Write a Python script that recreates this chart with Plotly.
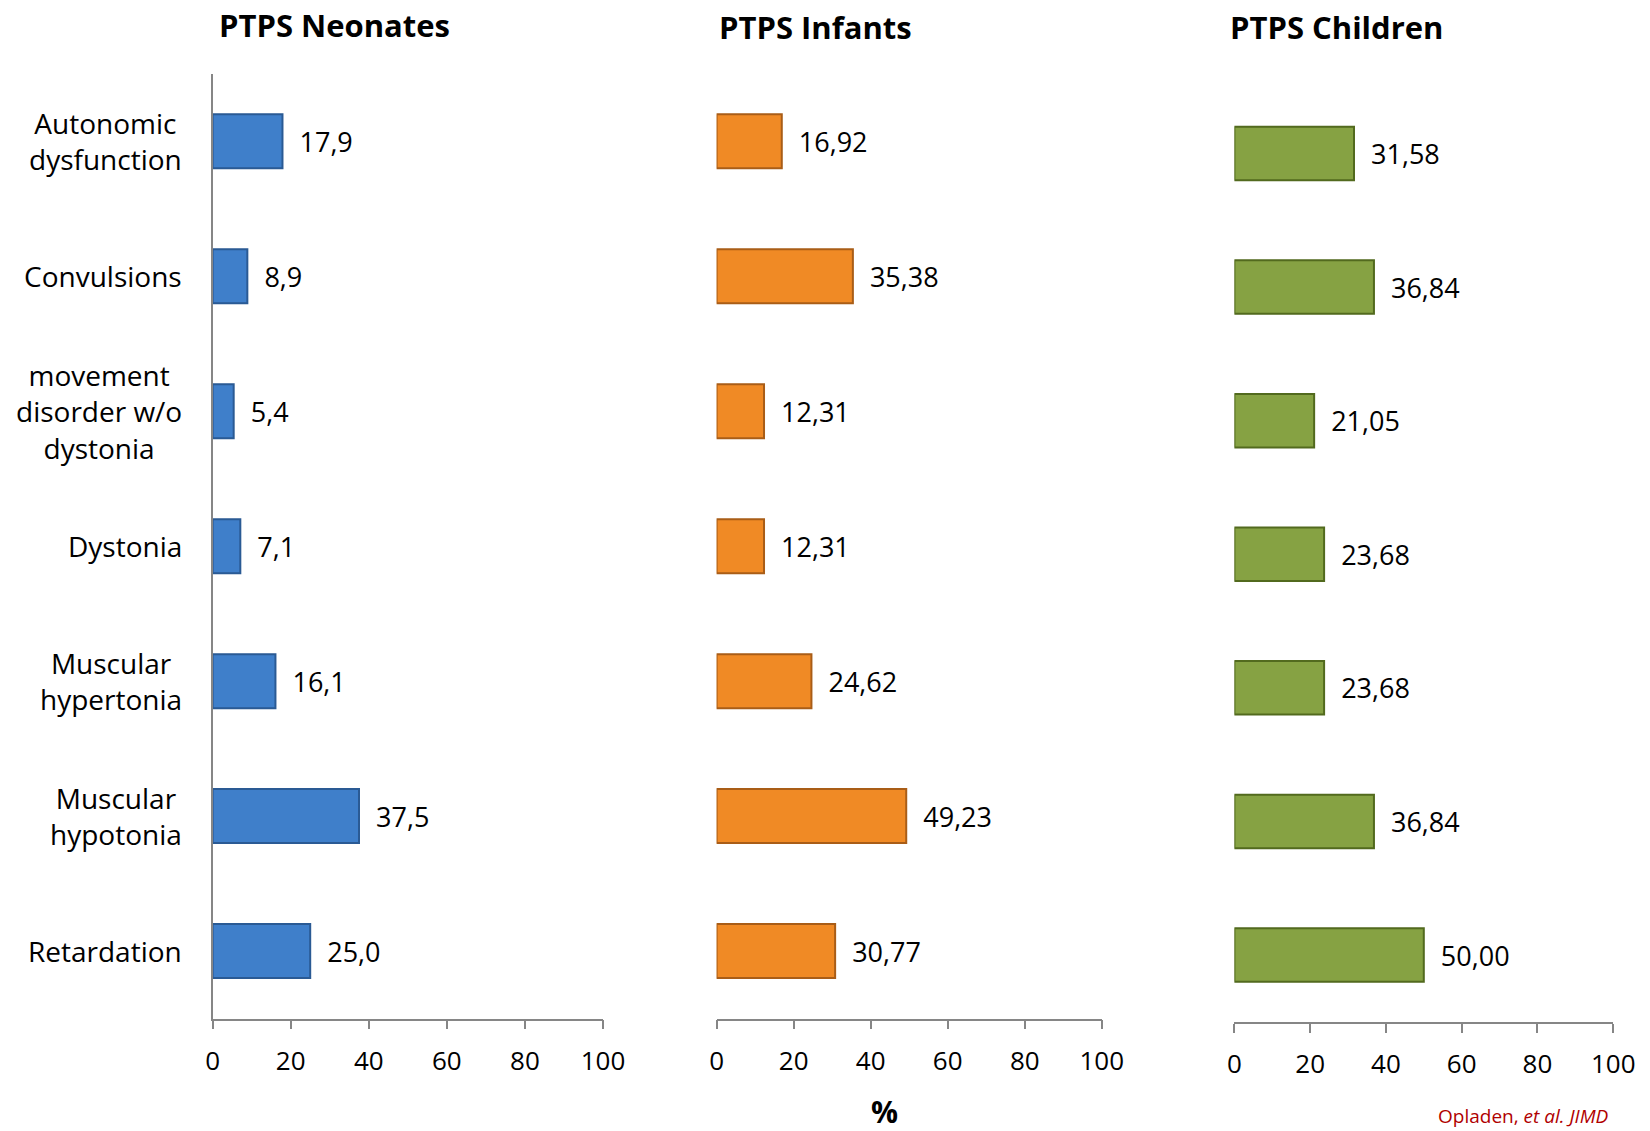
import plotly.graph_objects as go

categories = ["Autonomic dysfunction", "Convulsions", "movement disorder w/o dystonia",
              "Dystonia", "Muscular hypertonia", "Muscular hypotonia", "Retardation"]
category_labels = ["Autonomic<br>dysfunction", "Convulsions", "movement<br>disorder w/o<br>dystonia",
                   "Dystonia", "Muscular<br>hypertonia", "Muscular<br>hypotonia", "Retardation"]
neonates = [17.9, 8.9, 5.4, 7.1, 16.1, 37.5, 25.0]
infants = [16.92, 35.38, 12.31, 12.31, 24.62, 49.23, 30.77]
children = [31.58, 36.84, 21.05, 23.68, 23.68, 36.84, 50.00]
panel_titles = ["PTPS Neonates", "PTPS Infants", "PTPS Children"]
tick_vals = [0, 20, 40, 60, 80, 100]

FONT = "Open Sans"
W, H = 1650, 1131

panels = [
    dict(vals=neonates, fmt=".1f", fill="#3F7FCA", line="#2A5A94",
         x0=212.6, x1=603.0, ytop=73.7, ybot=1018.6, title_x=334.6, title_y=25, showy=True),
    dict(vals=infants, fmt=".2f", fill="#F08A25", line="#A95D17",
         x0=716.6, x1=1101.8, ytop=73.7, ybot=1018.6, title_x=815.5, title_y=27.4, showy=False),
    dict(vals=children, fmt=".2f", fill="#86A243", line="#526A1E",
         x0=1234.4, x1=1613.2, ytop=86.7, ybot=1021.8, title_x=1336, title_y=27.4, showy=False),
]

fig = go.Figure()
annotations = []
for i, p in enumerate(panels):
    n = "" if i == 0 else str(i + 1)
    fig.add_trace(go.Bar(
        x=p["vals"], y=categories, orientation="h", width=0.4,
        marker=dict(color=p["fill"], line=dict(color=p["line"], width=2)),
        texttemplate="\u00a0\u00a0%{x:" + p["fmt"] + "}", textposition="outside",
        textfont=dict(family=FONT, size=27, color="#000000"),
        cliponaxis=False, xaxis="x" + n, yaxis="y" + n, showlegend=False,
        hoverinfo="skip",
    ))
    fig.layout["xaxis" + n] = dict(
        domain=[p["x0"] / W, p["x1"] / W], range=[0, 100], tickvals=tick_vals,
        showgrid=False, zeroline=False, showline=True, linecolor="#868686", linewidth=1.5,
        ticks="outside", ticklen=9, tickwidth=1.5, tickcolor="#868686",
        tickfont=dict(family=FONT, size=26, color="#000000"), ticklabelstandoff=9,
        anchor="y" + n, fixedrange=True, automargin=False,
    )
    fig.layout["yaxis" + n] = dict(
        domain=[1 - p["ybot"] / H, 1 - p["ytop"] / H], categoryorder="array",
        categoryarray=categories, range=[6.5, -0.5], showticklabels=False,
        showgrid=False, zeroline=False, showline=p["showy"], linecolor="#868686",
        linewidth=1.5, ticks="", anchor="x" + n, fixedrange=True, automargin=False,
    )
    annotations.append(dict(
        text="<b>" + panel_titles[i] + "</b>", xref="paper", yref="paper",
        x=p["title_x"] / W, y=1 - p["title_y"] / H, xanchor="center", yanchor="middle",
        showarrow=False, font=dict(family=FONT, size=31, color="#000000"),
    ))

for cat, lab in zip(categories, category_labels):
    annotations.append(dict(
        text=lab, xref="x domain", yref="y", x=0, y=cat, xanchor="right", yanchor="middle",
        xshift=-29, align="center", showarrow=False,
        font=dict(family=FONT, size=28, color="#000000"),
    ))

annotations.append(dict(
    text="<b>%</b>", xref="paper", yref="paper", x=884 / W, y=1 - 1111 / H,
    xanchor="center", yanchor="middle", showarrow=False,
    font=dict(family=FONT, size=30, color="#000000"),
))
annotations.append(dict(
    text="Opladen, <i>et al. JIMD</i>", xref="paper", yref="paper", x=1436 / W, y=0,
    xanchor="left", yanchor="bottom", showarrow=False,
    font=dict(family=FONT, size=19, color="#B00000"),
))

fig.update_layout(
    width=W, height=H, margin=dict(l=0, r=0, t=0, b=0, autoexpand=False),
    paper_bgcolor="white", plot_bgcolor="white",
    annotations=annotations, separators=",.", bargap=0.6,
)

fig.write_html("out.html", config={"displayModeBar": False},
               post_script="document.body.style.margin='0';document.body.style.overflow='hidden';")
